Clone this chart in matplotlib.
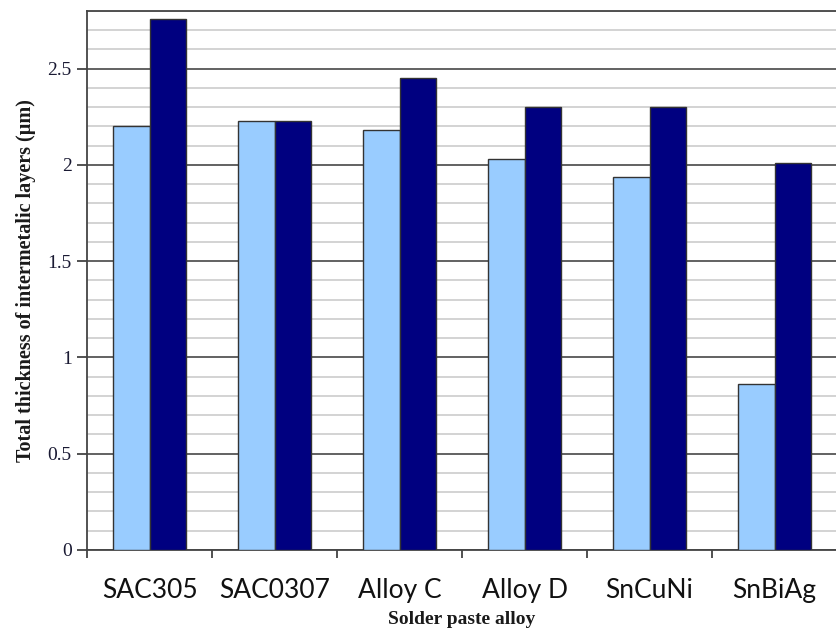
import numpy as np
import matplotlib.pyplot as plt
from matplotlib.ticker import MultipleLocator

alloys = ["SAC305", "SAC0307", "Alloy C", "Alloy D", "SnCuNi", "SnBiAg"]
series_a = [2.20, 2.23, 2.18, 2.03, 1.94, 0.86]
series_b = [2.76, 2.23, 2.45, 2.30, 2.30, 2.01]

light = "#99CCFF"
dark = "#000080"

fig = plt.figure(figsize=(8.37, 6.29), dpi=100)
ax = fig.add_axes([0.104, 0.1256, 0.896, 0.857])

x = np.arange(len(alloys))
w = 0.29
ax.bar(x - w / 2, series_a, w, color=light, edgecolor="#333333", linewidth=1.0, zorder=3)
ax.bar(x + w / 2, series_b, w, color=dark, edgecolor="#333333", linewidth=1.0, zorder=3)

ax.set_xlim(-0.5, len(alloys) - 0.5)
ax.set_ylim(0, 2.8)

# grid: dark at 0.5 steps, light at 0.1 steps
ax.yaxis.set_major_locator(MultipleLocator(0.5))
ax.yaxis.set_minor_locator(MultipleLocator(0.1))
ax.grid(axis="y", which="major", color="#555555", linewidth=1.3, zorder=1)
ax.grid(axis="y", which="minor", color="#cccccc", linewidth=1.2, zorder=0)
ax.set_yticks([0, 0.5, 1, 1.5, 2, 2.5])
ax.set_yticklabels(["0", "0.5", "1", "1.5", "2", "2.5"],
                   fontfamily="Liberation Serif", fontsize=14, color="#1a1a33")
ax.tick_params(axis="y", which="major", length=7, width=1.2, color="#333333", pad=4)
ax.tick_params(axis="y", which="minor", length=0)

# category labels with boundary ticks
ax.set_xticks(x)
ax.set_xticklabels(alloys, fontfamily="Lato", fontsize=19, color="#111111")
ax.tick_params(axis="x", which="major", length=0, pad=20)
ax.set_xticks(np.arange(len(alloys) + 1) - 0.5, minor=True)
ax.tick_params(axis="x", which="minor", length=6, width=1.2, color="#333333")

for side in ["left", "top", "bottom"]:
    ax.spines[side].set_color("#444444")
    ax.spines[side].set_linewidth(1.3)
ax.spines["right"].set_visible(False)

ax.set_ylabel("Total thickness of intermetalic layers (µm)", fontfamily="Liberation Serif",
              fontweight="bold", fontsize=14.5, color="#1a1a1a", labelpad=8)
ax.set_xlabel("Solder paste alloy", fontfamily="Liberation Serif", fontweight="bold",
              fontsize=14, color="#1a1a1a", labelpad=6)

fig.savefig("out.png", dpi=100)
